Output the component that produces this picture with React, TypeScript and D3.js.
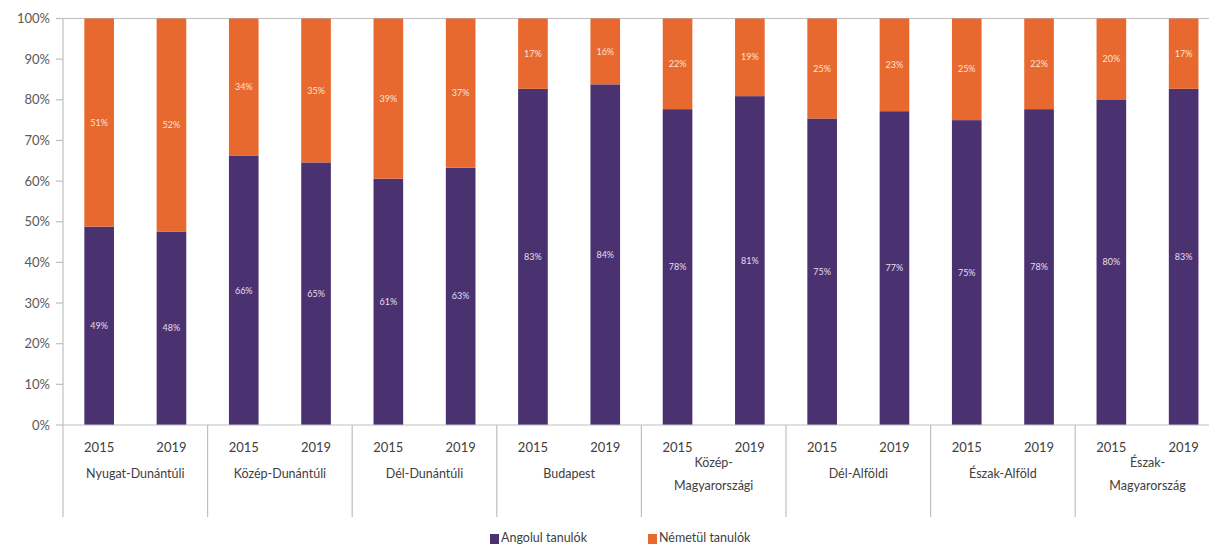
import * as d3 from "d3";

// regions (group labels), split into lines where the original wraps
const regions = [
    ["Nyugat-Dunántúli"],
    ["Közép-Dunántúli"],
    ["Dél-Dunántúli"],
    ["Budapest"],
    ["Közép-", "Magyarországi"],
    ["Dél-Alföldi"],
    ["Észak-Alföld"],
    ["Észak-", "Magyarország"],
];
const years = ["2015", "2019"];

// share of students, in the same order as regions × years
const english = [48.8, 47.6, 66.2, 64.6, 60.6, 63.3, 82.7, 83.8, 77.7, 80.9, 75.4, 77.2, 75.0, 77.7, 80.1, 82.7];
const german = [51.2, 52.4, 33.8, 35.4, 39.4, 36.7, 17.3, 16.2, 22.3, 19.1, 24.6, 22.8, 25.0, 22.3, 19.9, 17.3];

const yTicks = [0, 10, 20, 30, 40, 50, 60, 70, 80, 90, 100];
const seriesNames = ["Angolul tanulók", "Németül tanulók"];

const W = 1209;
const H = 546;
const PURPLE = "#4a3270";
const ORANGE = "#e8692f";
const AXIS = "#bfbfbf";
const FONT = "Lato, 'Open Sans', sans-serif";

export default function App() {
    const left = 63;
    const groupW = 144.6;
    const x0 = d3.scaleBand<number>()
        .domain(d3.range(regions.length))
        .range([left, left + groupW * regions.length])
        .padding(0);
    const x1 = d3.scaleBand<string>()
        .domain(years)
        .range([0, x0.bandwidth()])
        .paddingInner(0.59)
        .paddingOuter(0.295);
    const y = d3.scaleLinear().domain([0, 100]).range([425, 18.5]);

    const bars = regions.flatMap((r, gi) =>
        years.map((yr, yi) => {
            const i = gi * years.length + yi;
            return { gi, yr, eng: english[i], ger: german[i] };
        })
    );

    const sepBottom = 517;

    return (
        <svg width={W} height={H} style={{ position: "fixed", left: 0, top: 0, background: "#fff" }}
             fontFamily={FONT}>
            {/* top line at 100% */}
            <line x1={left} x2={W} y1={y(100)} y2={y(100)} stroke={AXIS} strokeWidth={1.2} />

            {/* bars */}
            {bars.map((b, k) => {
                const bx = (x0(b.gi) ?? 0) + (x1(b.yr) ?? 0);
                const bw = x1.bandwidth();
                const yEng = y(b.eng);
                const yTop = y(b.eng + b.ger);
                return (
                    <g key={k}>
                        <rect x={bx} width={bw} y={yEng} height={y(0) - yEng} fill={PURPLE} />
                        <rect x={bx} width={bw} y={yTop} height={yEng - yTop} fill={ORANGE} />
                        <text x={bx + bw / 2} y={(yEng + y(0)) / 2} dy="0.35em" textAnchor="middle"
                              fontSize={9} fill="#e6def0">{Math.round(b.eng)}%</text>
                        <text x={bx + bw / 2} y={(yEng + yTop) / 2} dy="0.35em" textAnchor="middle"
                              fontSize={9} fill="#fbe3d6">{Math.round(b.ger)}%</text>
                    </g>
                );
            })}

            {/* y axis */}
            <line x1={left} x2={left} y1={y(100)} y2={y(0)} stroke={AXIS} strokeWidth={1.2} />
            {yTicks.map(t => (
                <g key={t}>
                    <line x1={left - 7} x2={left} y1={y(t)} y2={y(t)} stroke={AXIS} strokeWidth={1.2} />
                    <text x={50} y={y(t)} dy="0.35em" textAnchor="end" fontSize={13} fill="#595959">{t}%</text>
                </g>
            ))}

            {/* x axis */}
            <line x1={left} x2={W} y1={y(0)} y2={y(0)} stroke={AXIS} strokeWidth={1.2} />
            {d3.range(regions.length + 1).map(i => {
                const sx = left + x0.step() * i;
                return <line key={i} x1={sx} x2={sx} y1={y(0)} y2={sepBottom} stroke={AXIS} strokeWidth={1.2} />;
            })}
            {regions.map((r, gi) => {
                const gx = x0(gi) ?? 0;
                const cx = gx + x0.bandwidth() / 2;
                return (
                    <g key={gi}>
                        {years.map(yr => (
                            <text key={yr} x={gx + (x1(yr) ?? 0) + x1.bandwidth() / 2} y={447} dy="0.35em"
                                  textAnchor="middle" fontSize={13} fill="#404040">{yr}</text>
                        ))}
                        {r.map((line, li) => (
                            <text key={li} x={cx} y={r.length === 1 ? 474 : 463 + li * 23} dy="0.35em"
                                  textAnchor="middle" fontSize={12.5} fill="#404040">{line}</text>
                        ))}
                    </g>
                );
            })}

            {/* legend */}
            {seriesNames.map((s, i) => {
                const lx = i === 0 ? 490 : 648;
                return (
                    <g key={s}>
                        <rect x={lx} y={534} width={9} height={10} fill={i === 0 ? PURPLE : ORANGE} />
                        <text x={lx + 11} y={538} dy="0.35em" fontSize={12.5} fill="#404040">{s}</text>
                    </g>
                );
            })}
        </svg>
    );
}
